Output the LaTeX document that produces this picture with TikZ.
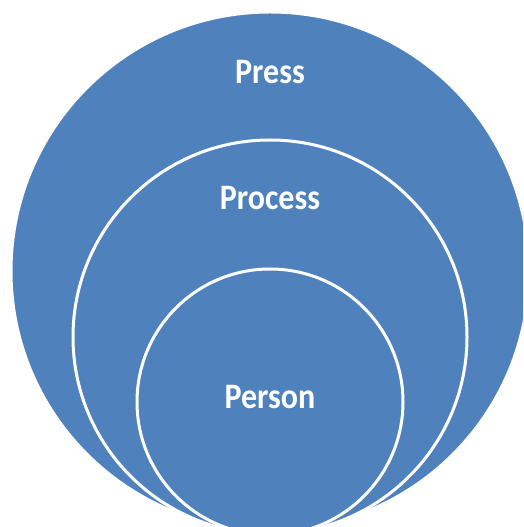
\documentclass[tikz,border=0pt]{standalone}
\usepackage{fontspec}
\setmainfont{Carlito}
\usetikzlibrary{positioning}
\definecolor{accent}{RGB}{79,129,189}
\tikzstyle{ring}=[circle, fill=accent, draw=white, line width=3pt, inner sep=0pt]
\tikzstyle{tag}=[text=white, font=\bfseries\fontsize{32}{38}\selectfont]

\begin{document}
\begin{tikzpicture}[x=1pt,y=1pt]
\useasboundingbox (0,0) rectangle (523,527);
\clip (0,0) rectangle (523,527);

\draw (270,256) node[ring,minimum size=518pt] (Press) {} ;
\draw (270,190) node[ring,minimum size=394pt] (Process) {} ;
\draw (270,125) node[ring,minimum size=266pt] (Person) {} ;

\draw (Press) ++(0,199) node[tag] (PressTag) {\scalebox{1}[1.12]{Press}};
\draw (Process) ++(0,139) node[tag] (ProcessTag) {\scalebox{1}[1.12]{Process}};
\draw (Person) ++(0,5) node[tag] (PersonTag) {\scalebox{1}[1.12]{Person}};

\end{tikzpicture}
\end{document}
